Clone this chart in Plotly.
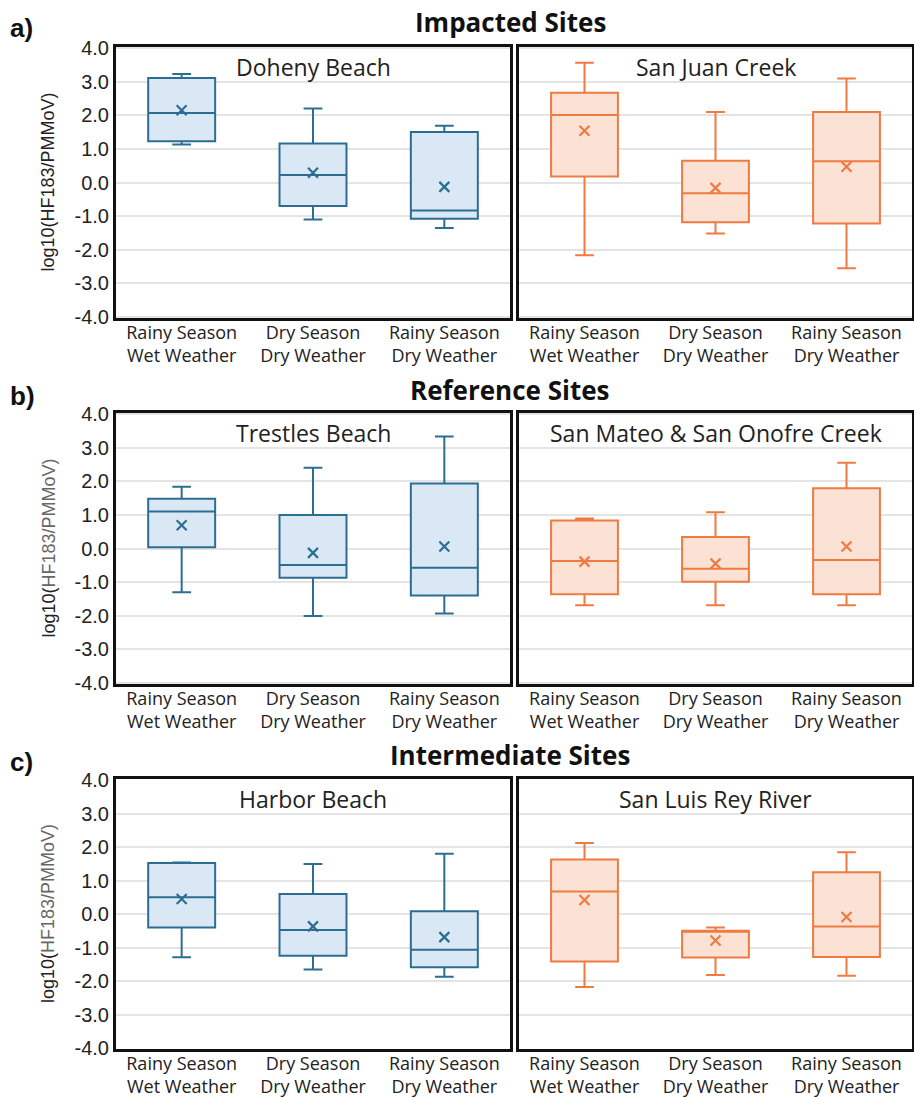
import plotly.graph_objects as go

W, H = 914, 1097

categories = ["Rainy Season<br>Wet Weather", "Dry Season<br>Dry Weather", "Rainy Season<br>Dry Weather"]
y_tick_vals = [-4, -3, -2, -1, 0, 1, 2, 3, 4]
y_tick_text = ["-4.0", "-3.0", "-2.0", "-1.0", "0.0", "1.0", "2.0", "3.0", "4.0"]

row_titles = ["Impacted Sites", "Reference Sites", "Intermediate Sites"]
row_letters = ["a)", "b)", "c)"]
site_names = ["Doheny Beach", "San Juan Creek", "Trestles Beach",
              "San Mateo &amp; San Onofre Creek", "Harbor Beach", "San Luis Rey River"]

doheny_upper = [3.23, 2.20, 1.69]
doheny_q3 = [3.11, 1.16, 1.50]
doheny_median = [2.07, 0.22, -0.83]
doheny_q1 = [1.23, -0.70, -1.08]
doheny_lower = [1.13, -1.10, -1.35]
doheny_mean = [2.15, 0.29, -0.13]

sanjuan_upper = [3.56, 2.10, 3.09]
sanjuan_q3 = [2.67, 0.65, 2.10]
sanjuan_median = [2.01, -0.32, 0.63]
sanjuan_q1 = [0.18, -1.18, -1.22]
sanjuan_lower = [-2.16, -1.52, -2.55]
sanjuan_mean = [1.54, -0.16, 0.47]

trestles_upper = [1.84, 2.40, 3.33]
trestles_q3 = [1.48, 1.00, 1.93]
trestles_median = [1.10, -0.49, -0.57]
trestles_q1 = [0.04, -0.87, -1.40]
trestles_lower = [-1.30, -2.01, -1.93]
trestles_mean = [0.69, -0.13, 0.06]

sanmateo_upper = [0.89, 1.08, 2.55]
sanmateo_q3 = [0.83, 0.34, 1.79]
sanmateo_median = [-0.37, -0.60, -0.34]
sanmateo_q1 = [-1.36, -0.99, -1.36]
sanmateo_lower = [-1.69, -1.69, -1.69]
sanmateo_mean = [-0.39, -0.45, 0.06]

harbor_upper = [1.54, 1.49, 1.80]
harbor_q3 = [1.52, 0.60, 0.08]
harbor_median = [0.50, -0.48, -1.07]
harbor_q1 = [-0.40, -1.25, -1.59]
harbor_lower = [-1.29, -1.66, -1.87]
harbor_mean = [0.45, -0.37, -0.69]

sanluis_upper = [2.12, -0.40, 1.84]
sanluis_q3 = [1.63, -0.50, 1.25]
sanluis_median = [0.67, -0.52, -0.37]
sanluis_q1 = [-1.42, -1.30, -1.28]
sanluis_lower = [-2.18, -1.82, -1.84]
sanluis_mean = [0.42, -0.79, -0.09]

panels = [
    (doheny_lower, doheny_q1, doheny_median, doheny_q3, doheny_upper, doheny_mean),
    (sanjuan_lower, sanjuan_q1, sanjuan_median, sanjuan_q3, sanjuan_upper, sanjuan_mean),
    (trestles_lower, trestles_q1, trestles_median, trestles_q3, trestles_upper, trestles_mean),
    (sanmateo_lower, sanmateo_q1, sanmateo_median, sanmateo_q3, sanmateo_upper, sanmateo_mean),
    (harbor_lower, harbor_q1, harbor_median, harbor_q3, harbor_upper, harbor_mean),
    (sanluis_lower, sanluis_q1, sanluis_median, sanluis_q3, sanluis_upper, sanluis_mean),
]

BLUE_LINE, BLUE_FILL = "#2c6e91", "#dae8f5"
ORANGE_LINE, ORANGE_FILL = "#ef7b41", "#fbe2d5"

# layout geometry (pixels)
row_top = [47, 413, 779]
row_bot = [318, 684, 1049]
col_left = [116, 519]
col_right = [510, 912]
row_title_y = [22, 390, 755]
letter_y = [28, 396, 762]

SANS = "Liberation Sans, Arial, sans-serif"
TEXT = "Open Sans, Liberation Sans, sans-serif"

fig = go.Figure()
layout = dict(width=W, height=H, margin=dict(l=0, r=0, t=0, b=0, autoexpand=False),
              paper_bgcolor="white", plot_bgcolor="white", showlegend=False)
annotations = []

x_pos = list(range(len(categories)))

for i, (lo, q1, med, q3, up, mn) in enumerate(panels):
    r, c = divmod(i, 2)
    n = i + 1
    xa = "x" if n == 1 else f"x{n}"
    ya = "y" if n == 1 else f"y{n}"
    line_c = BLUE_LINE if c == 0 else ORANGE_LINE
    fill_c = BLUE_FILL if c == 0 else ORANGE_FILL
    fig.add_trace(go.Box(
        x=x_pos, q1=q1, median=med, q3=q3, lowerfence=lo, upperfence=up,
        xaxis=xa, yaxis=ya, width=0.51, whiskerwidth=0.28,
        line=dict(color=line_c, width=2), fillcolor=fill_c, boxpoints=False,
        hoverinfo="skip"))
    fig.add_trace(go.Scatter(
        x=x_pos, y=mn, xaxis=xa, yaxis=ya, mode="markers",
        marker=dict(symbol="x-thin", size=10, line=dict(color=line_c, width=2.2)),
        hoverinfo="skip"))

    xd = [col_left[c] / W, col_right[c] / W]
    yd = [1 - row_bot[r] / H, 1 - row_top[r] / H]
    xkey = "xaxis" if n == 1 else f"xaxis{n}"
    ykey = "yaxis" if n == 1 else f"yaxis{n}"
    layout[xkey] = dict(domain=xd, anchor=ya, range=[-0.5, 2.5],
                        tickvals=x_pos, ticktext=categories, automargin=False,
                        tickfont=dict(family=TEXT, size=18, color="#222"),
                        ticklabelstandoff=-4,
                        showgrid=False, zeroline=False, showline=True, mirror=True,
                        linecolor="#111", linewidth=3, ticks="", fixedrange=True)
    layout[ykey] = dict(domain=yd, anchor=xa, range=[-4.03, 4.03],
                        tickvals=y_tick_vals, ticktext=y_tick_text, automargin=False,
                        showticklabels=(c == 0),
                        tickfont=dict(family=SANS, size=20, color="#222"),
                        showgrid=True, gridcolor="#e4e4e4", gridwidth=1.5,
                        zeroline=False, showline=True, mirror=True,
                        linecolor="#111", linewidth=3, ticks="", fixedrange=True)
    # site title
    annotations.append(dict(
        text=site_names[i], x=(col_left[c] + col_right[c]) / 2 / W,
        y=1 - (row_top[r] + 20) / H, xref="paper", yref="paper",
        xanchor="center", yanchor="middle", showarrow=False,
        font=dict(family=TEXT, size=23, color="#222")))

for r in range(3):
    annotations.append(dict(
        text="<b>" + row_titles[r] + "</b>", x=510 / W, y=1 - row_title_y[r] / H,
        xref="paper", yref="paper", xanchor="center", yanchor="middle",
        showarrow=False, font=dict(family=TEXT, size=26, color="#111")))
    annotations.append(dict(
        text="<b>" + row_letters[r] + "</b>", x=8 / W, y=1 - letter_y[r] / H,
        xref="paper", yref="paper", xanchor="left", yanchor="middle",
        showarrow=False, font=dict(family=SANS, size=26, color="#111")))
    ytitle = "log10(HF183/PMMoV)" if r == 0 else "log10(<span style='color:#666'>HF183/PMMoV)</span>"
    annotations.append(dict(
        text=ytitle, x=48 / W, y=1 - (row_top[r] + row_bot[r]) / 2 / H,
        xref="paper", yref="paper", xanchor="center", yanchor="middle",
        textangle=-90, showarrow=False,
        font=dict(family=SANS, size=18, color="#222")))

layout["annotations"] = annotations
fig.update_layout(**layout)
fig.write_html("out.html", config={"displayModeBar": False},
               post_script="document.body.style.margin='0';document.body.style.overflow='hidden';")
